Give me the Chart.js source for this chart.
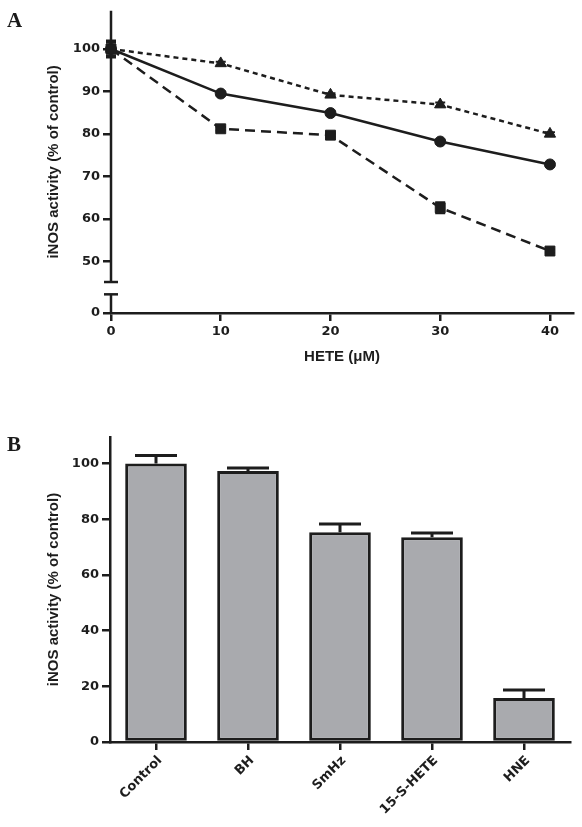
<!DOCTYPE html>
<html>
<head>
<meta charset="utf-8">
<script src="https://cdn.jsdelivr.net/npm/chart.js@4"></script>
<style>
  body { margin: 0; background: #fff; }
  #wrap { position: relative; width: 582px; height: 827px; }
  .panel { position: absolute; left: 0; }
  .tag { position: absolute; left: 7px; font: bold 21px "Liberation Serif", serif; line-height: 21px; color: #1a1a1a; }
</style>
</head>
<body>
<div id="wrap">
  <canvas id="chartA" class="panel" style="top:0" width="582" height="380"></canvas>
  <canvas id="chartB" class="panel" style="top:380px" width="582" height="447"></canvas>
  <div class="tag" style="top:10px">A</div>
  <div class="tag" style="top:434px">B</div>
</div>
<script>
// panel A: iNOS activity vs HETE concentration
const hete = [0, 10, 20, 30, 40];
const triVals = [100, 96.6, 89.2, 86.9, 80.0];
const circVals = [100, 89.5, 84.9, 78.2, 72.8];
const sqVals = [100, 81.2, 79.7, 62.6, 52.4];
const triErr = [1.5, 0.4, 0.4, 0.5, 0.4];
const circErr = [1.8, 0.4, 0.4, 0.4, 0.4];
const sqErr = [2.0, 0.4, 0.4, 1.3, 0.4];
const xTicksA = [0, 10, 20, 30, 40];
const yTicksA = [0, 50, 60, 70, 80, 90, 100];

// panel B: treatments
const groups = ['Control', 'BH', 'SmHz', '15-S-HETE', 'HNE'];
const activity = [100, 97.3, 75.3, 73.5, 15.8];
const activityErr = [2.9, 1.1, 3.0, 1.5, 2.9];
const yTicksB = [0, 20, 40, 60, 80, 100];

const INK = '#1d1d1d';
const tickFont = { family: 'DejaVu Sans', weight: 'bold', size: 13 };
const titleFont = { family: 'Liberation Sans', weight: 'bold', size: 15 };

// broken y axis: zero sits just under the 50..100 segment
const ZERO_POS = 37.8;
const BREAK_HI = 45.1;
const BREAK_LO = 42.2;

const errorBars = {
  id: 'errorBars',
  beforeDatasetsDraw(chart) {
    const ctx = chart.ctx;
    const ys = chart.scales.y;
    chart.data.datasets.forEach((ds, i) => {
      if (!ds.errors) return;
      const meta = chart.getDatasetMeta(i);
      ctx.save();
      ctx.strokeStyle = INK;
      ctx.lineWidth = ds.errWidth || 2;
      meta.data.forEach((el, j) => {
        const d = ds.data[j];
        const v = typeof d === 'object' ? d.y : d;
        const e = ds.errors[j];
        const top = ys.getPixelForValue(v + e);
        const bot = ds.upOnly ? ys.getPixelForValue(v) : ys.getPixelForValue(v - e);
        const cap = ds.capHalf || 5;
        ctx.beginPath();
        ctx.moveTo(el.x, top); ctx.lineTo(el.x, bot);
        ctx.moveTo(el.x - cap, top); ctx.lineTo(el.x + cap, top);
        if (!ds.upOnly) { ctx.moveTo(el.x - cap, bot); ctx.lineTo(el.x + cap, bot); }
        ctx.stroke();
      });
      ctx.restore();
    });
  }
};

const brokenAxis = {
  id: 'brokenAxis',
  beforeDatasetsDraw(chart) {
    const ctx = chart.ctx;
    const ys = chart.scales.y;
    const px = chart.scales.x.getPixelForValue(0);
    ctx.save();
    ctx.strokeStyle = INK;
    ctx.lineWidth = 2.5;
    [[ys.max, BREAK_HI], [BREAK_LO, ys.min]].forEach(([a, b]) => {
      ctx.beginPath();
      ctx.moveTo(px, ys.getPixelForValue(a));
      ctx.lineTo(px, ys.getPixelForValue(b));
      ctx.stroke();
    });
    [BREAK_HI, BREAK_LO].forEach(v => {
      const yy = ys.getPixelForValue(v);
      ctx.beginPath();
      ctx.moveTo(px - 7, yy); ctx.lineTo(px + 7, yy);
      ctx.stroke();
    });
    ctx.restore();
  }
};

function series(vals, errs, style, radius, dash) {
  return {
    data: hete.map((x, i) => ({ x: x, y: vals[i] })),
    errors: errs,
    borderColor: INK,
    borderWidth: 2.5,
    borderDash: dash,
    backgroundColor: INK,
    pointStyle: style,
    pointRadius: radius,
    pointBackgroundColor: INK,
    pointBorderColor: INK,
    pointBorderWidth: 1,
    tension: 0,
    clip: false
  };
}

new Chart(document.getElementById('chartA'), {
  type: 'line',
  data: {
    datasets: [
      series(sqVals, sqErr, 'rect', 7, [10, 6]),
      series(circVals, circErr, 'circle', 5.5, []),
      series(triVals, triErr, 'triangle', 6.5, [5, 4])
    ]
  },
  plugins: [brokenAxis, errorBars],
  options: {
    responsive: false,
    animation: false,
    layout: { padding: { left: 45, right: 9, top: 10, bottom: 14 } },
    plugins: { legend: { display: false }, tooltip: { enabled: false } },
    scales: {
      x: {
        type: 'linear',
        min: 0,
        max: 42.1,
        border: { color: INK, width: 2.5 },
        grid: { drawOnChartArea: false, tickLength: 8, color: INK, lineWidth: 2.5 },
        ticks: { color: INK, font: tickFont, padding: 3 },
        title: { display: true, text: 'HETE (μM)', color: INK, font: titleFont, padding: 0 },
        afterBuildTicks: s => { s.ticks = xTicksA.map(v => ({ value: v })); },
        afterFit: s => { s.height = 53; }
      },
      y: {
        min: ZERO_POS,
        max: 109,
        border: { display: false },
        grid: { drawOnChartArea: false, tickLength: 8, color: INK, lineWidth: 2.5 },
        ticks: { color: INK, font: tickFont, padding: 3, callback: v => v < BREAK_LO ? '0' : v },
        title: { display: true, text: 'iNOS activity (% of control)', color: INK, font: titleFont, padding: 0 },
        afterBuildTicks: s => { s.ticks = yTicksA.map(v => ({ value: v === 0 ? ZERO_POS : v })); },
        afterFit: s => { s.width = 66; }
      }
    }
  }
});

new Chart(document.getElementById('chartB'), {
  type: 'bar',
  data: {
    labels: groups,
    datasets: [{
      data: activity,
      errors: activityErr,
      upOnly: true,
      capHalf: 21,
      errWidth: 3,
      backgroundColor: '#a9aaae',
      borderColor: INK,
      borderWidth: 3,
      borderSkipped: false,
      barPercentage: 0.67,
      categoryPercentage: 1
    }]
  },
  plugins: [errorBars],
  options: {
    responsive: false,
    animation: false,
    layout: { padding: { left: 45, right: 12, top: 57, bottom: 0 } },
    plugins: { legend: { display: false }, tooltip: { enabled: false } },
    scales: {
      x: {
        border: { color: INK, width: 2.5 },
        grid: { drawOnChartArea: false, offset: false, tickLength: 8, color: INK, lineWidth: 2.5 },
        ticks: { color: INK, font: tickFont, padding: 3, maxRotation: 45, minRotation: 45, labelOffset: 4 },
        afterFit: s => { s.height = 85; }
      },
      y: {
        min: 0,
        max: 109.5,
        border: { color: INK, width: 2.5 },
        grid: { drawOnChartArea: false, tickLength: 8, color: INK, lineWidth: 2.5 },
        ticks: { color: INK, font: tickFont, padding: 3 },
        title: { display: true, text: 'iNOS activity (% of control)', color: INK, font: titleFont, padding: 0 },
        afterBuildTicks: s => { s.ticks = yTicksB.map(v => ({ value: v })); },
        afterFit: s => { s.width = 65; }
      }
    }
  }
});
</script>
</body>
</html>
